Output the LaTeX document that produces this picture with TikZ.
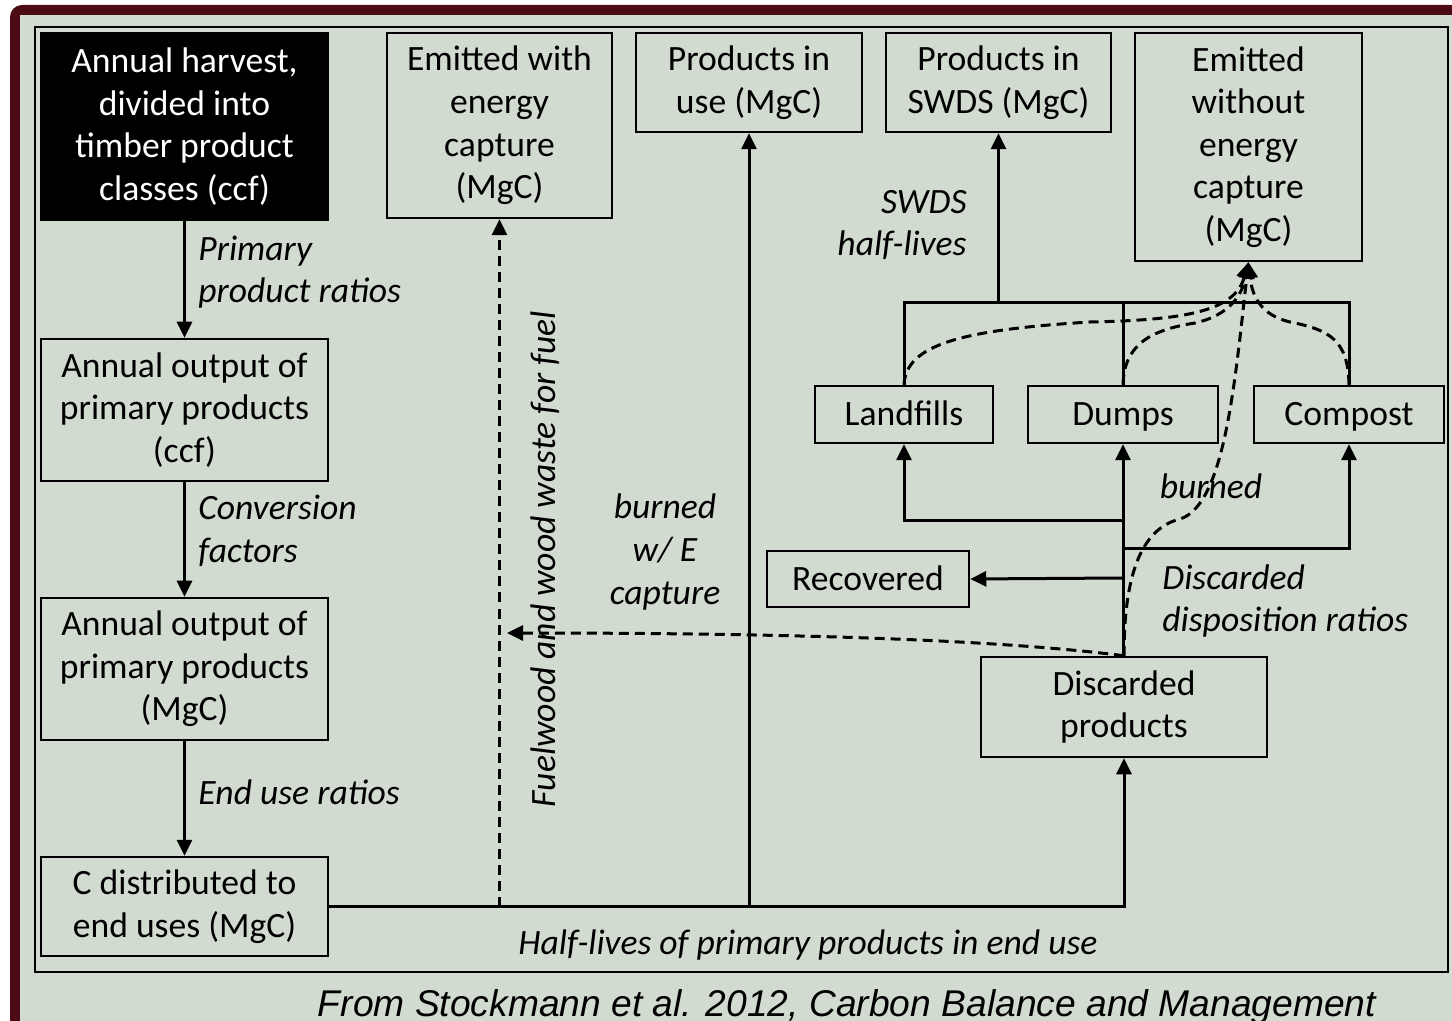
\documentclass[tikz,border=0pt]{standalone}
\usepackage{fontspec}
\setmainfont{Carlito}
\newfontfamily\arialf{Liberation Sans}
\usetikzlibrary{arrows.meta}
\definecolor{maroonc}{RGB}{75,10,20}
\definecolor{bgc}{RGB}{210,219,207}
\begin{document}
\begin{tikzpicture}[x=0.5pt,y=-0.5pt,
 box/.style={draw=black,line width=1.25pt,fill=bgc,align=center,inner sep=0pt,font=\fontsize{17.8}{21.3}\selectfont},
 onel/.style={text height=13.5pt,text depth=2pt},
 lbl/.style={font=\fontsize{17.8}{21.3}\selectfont\itshape,inner sep=0pt},
 conn/.style={line width=1.5pt},
 arr/.style={conn,-{Triangle[length=8pt,width=7.5pt]}},
 dsh/.style={conn,dash pattern=on 5pt off 3pt},
 darr/.style={dsh,-{Triangle[length=8pt,width=7.5pt]}}]
\useasboundingbox (0,0) rectangle (1452,1021);
\clip (0,0) rectangle (1452,1021);
\fill[white] (0,0) rectangle (1452,1021);
\fill[maroonc, rounded corners=6pt] (10,5) rectangle (1480,1060);
\fill[bgc] (20,15) rectangle (1470,1050);
\draw[line width=1pt] (35,27) rectangle (1448,972);

% boxes
\node[box,fill=black,text=white,minimum width=143.5pt,minimum height=93.5pt] (harvest) at (184.5,126.5) {Annual harvest,\\divided into\\timber product\\classes (ccf)};
\node[box,minimum width=112.5pt,minimum height=92.5pt] (emitE) at (499.5,125.5) {Emitted with\\energy\\capture\\(MgC)};
\node[box,minimum width=113pt,minimum height=49.5pt] (inuse) at (749,82.5) {Products in\\use (MgC)};
\node[box,minimum width=112.5pt,minimum height=49.5pt] (swds) at (998.5,82.5) {Products in\\SWDS (MgC)};
\node[box,minimum width=113.5pt,minimum height=114pt] (emitN) at (1248.5,147) {Emitted\\without\\energy\\capture\\(MgC)};
\node[box,minimum width=143.5pt,minimum height=71pt] (outccf) at (184.5,410) {Annual output of\\primary products\\(ccf)};
\node[box,minimum width=143.5pt,minimum height=71pt] (outmgc) at (184.5,669) {Annual output of\\primary products\\(MgC)};
\node[box,minimum width=143.5pt,minimum height=49.5pt] (cdist) at (184.5,906.5) {C distributed to\\end uses (MgC)};
\node[box,onel,minimum width=89pt,minimum height=28.5pt] (landfills) at (904,414.5) {Landfills};
\node[box,onel,minimum width=95pt,minimum height=28.5pt] (dumps) at (1123,414.5) {Dumps};
\node[box,onel,minimum width=95pt,minimum height=28.5pt] (compost) at (1349,414.5) {Compost};
\node[box,onel,minimum width=101pt,minimum height=28pt] (recovered) at (868,579) {Recovered};
\node[box,minimum width=143pt,minimum height=50pt] (discarded) at (1124,707) {Discarded\\products};

% coordinates
\coordinate (t) at (998.5,303);
\coordinate (b1) at (1123,521);
\coordinate (b2) at (1123,549);
\coordinate (b3) at (1123,578);
\coordinate (fw) at (507,633);

% left chain
\draw[arr] (harvest.south) -- (outccf.north);
\draw[arr] (outccf.south) -- (outmgc.north);
\draw[arr] (outmgc.south) -- (cdist.north);
\draw[arr] (cdist.east) -| (discarded.south);
\draw[arr] (inuse.south |- cdist.east) -- (inuse.south);
\draw[darr] (emitE.south |- cdist.east) -- (emitE.south);

% discarded dispositions
\draw[arr] (dumps.south |- discarded.north) -- (dumps.south);
\draw[arr] (b1) -| (landfills.south);
\draw[arr] (b2) -| (compost.south);
\draw[arr] (b3) -- (recovered.east);

% SWDS tree
\draw[conn] (landfills.north) |- (compost.north |- t) -- (compost.north);
\draw[conn] (dumps.north) -- (dumps.north |- t);
\draw[arr] (t) -- (swds.south);

% dashed flows
\draw[darr] (discarded.north) .. controls (1000,640) and (800,633) .. (fw);
\draw[darr] (discarded.north) .. controls (1124,590) and (1135,530) .. (1180,519) .. controls (1225,505) and (1235,380) .. (emitN.south);
\draw[darr] (landfills.north) .. controls (906,345) and (960,330) .. (1090,322) .. controls (1190,320) and (1235,310) .. (emitN.south);
\draw[darr] (dumps.north) .. controls (1124,345) and (1150,330) .. (1195,323) .. controls (1230,315) and (1242,295) .. (emitN.south);
\draw[darr] (compost.north) .. controls (1348,340) and (1330,330) .. (1290,322) .. controls (1260,315) and (1252,295) .. (emitN.south);

% labels
\node[lbl,anchor=west,align=left] (l1) at (198,272) {Primary\\product ratios};
\node[lbl,anchor=west,align=left] (l2) at (198,531) {Conversion\\factors};
\node[lbl,anchor=west] (l3) at (198,792) {End use ratios};
\node[lbl] (l4) at (808,945) {Half-lives of primary products in end use};
\node[lbl,rotate=90] (l5) at (545,559) {Fuelwood and wood waste for fuel};
\node[lbl,align=center] (l6) at (665,552) {burned\\w/ E\\capture};
\node[lbl,anchor=east,align=right] (l7) at (967,225) {SWDS\\half-lives};
\node[lbl] (l8) at (1211,486) {burned};
\node[lbl,anchor=west,align=left] (l9) at (1162,601) {Discarded\\disposition ratios};
\node[font=\arialf\itshape\fontsize{18.6}{22}\selectfont,anchor=base,inner sep=0pt] (src) at (847,1016) {From Stockmann et al. 2012, Carbon Balance and Management};
\end{tikzpicture}
\end{document}
